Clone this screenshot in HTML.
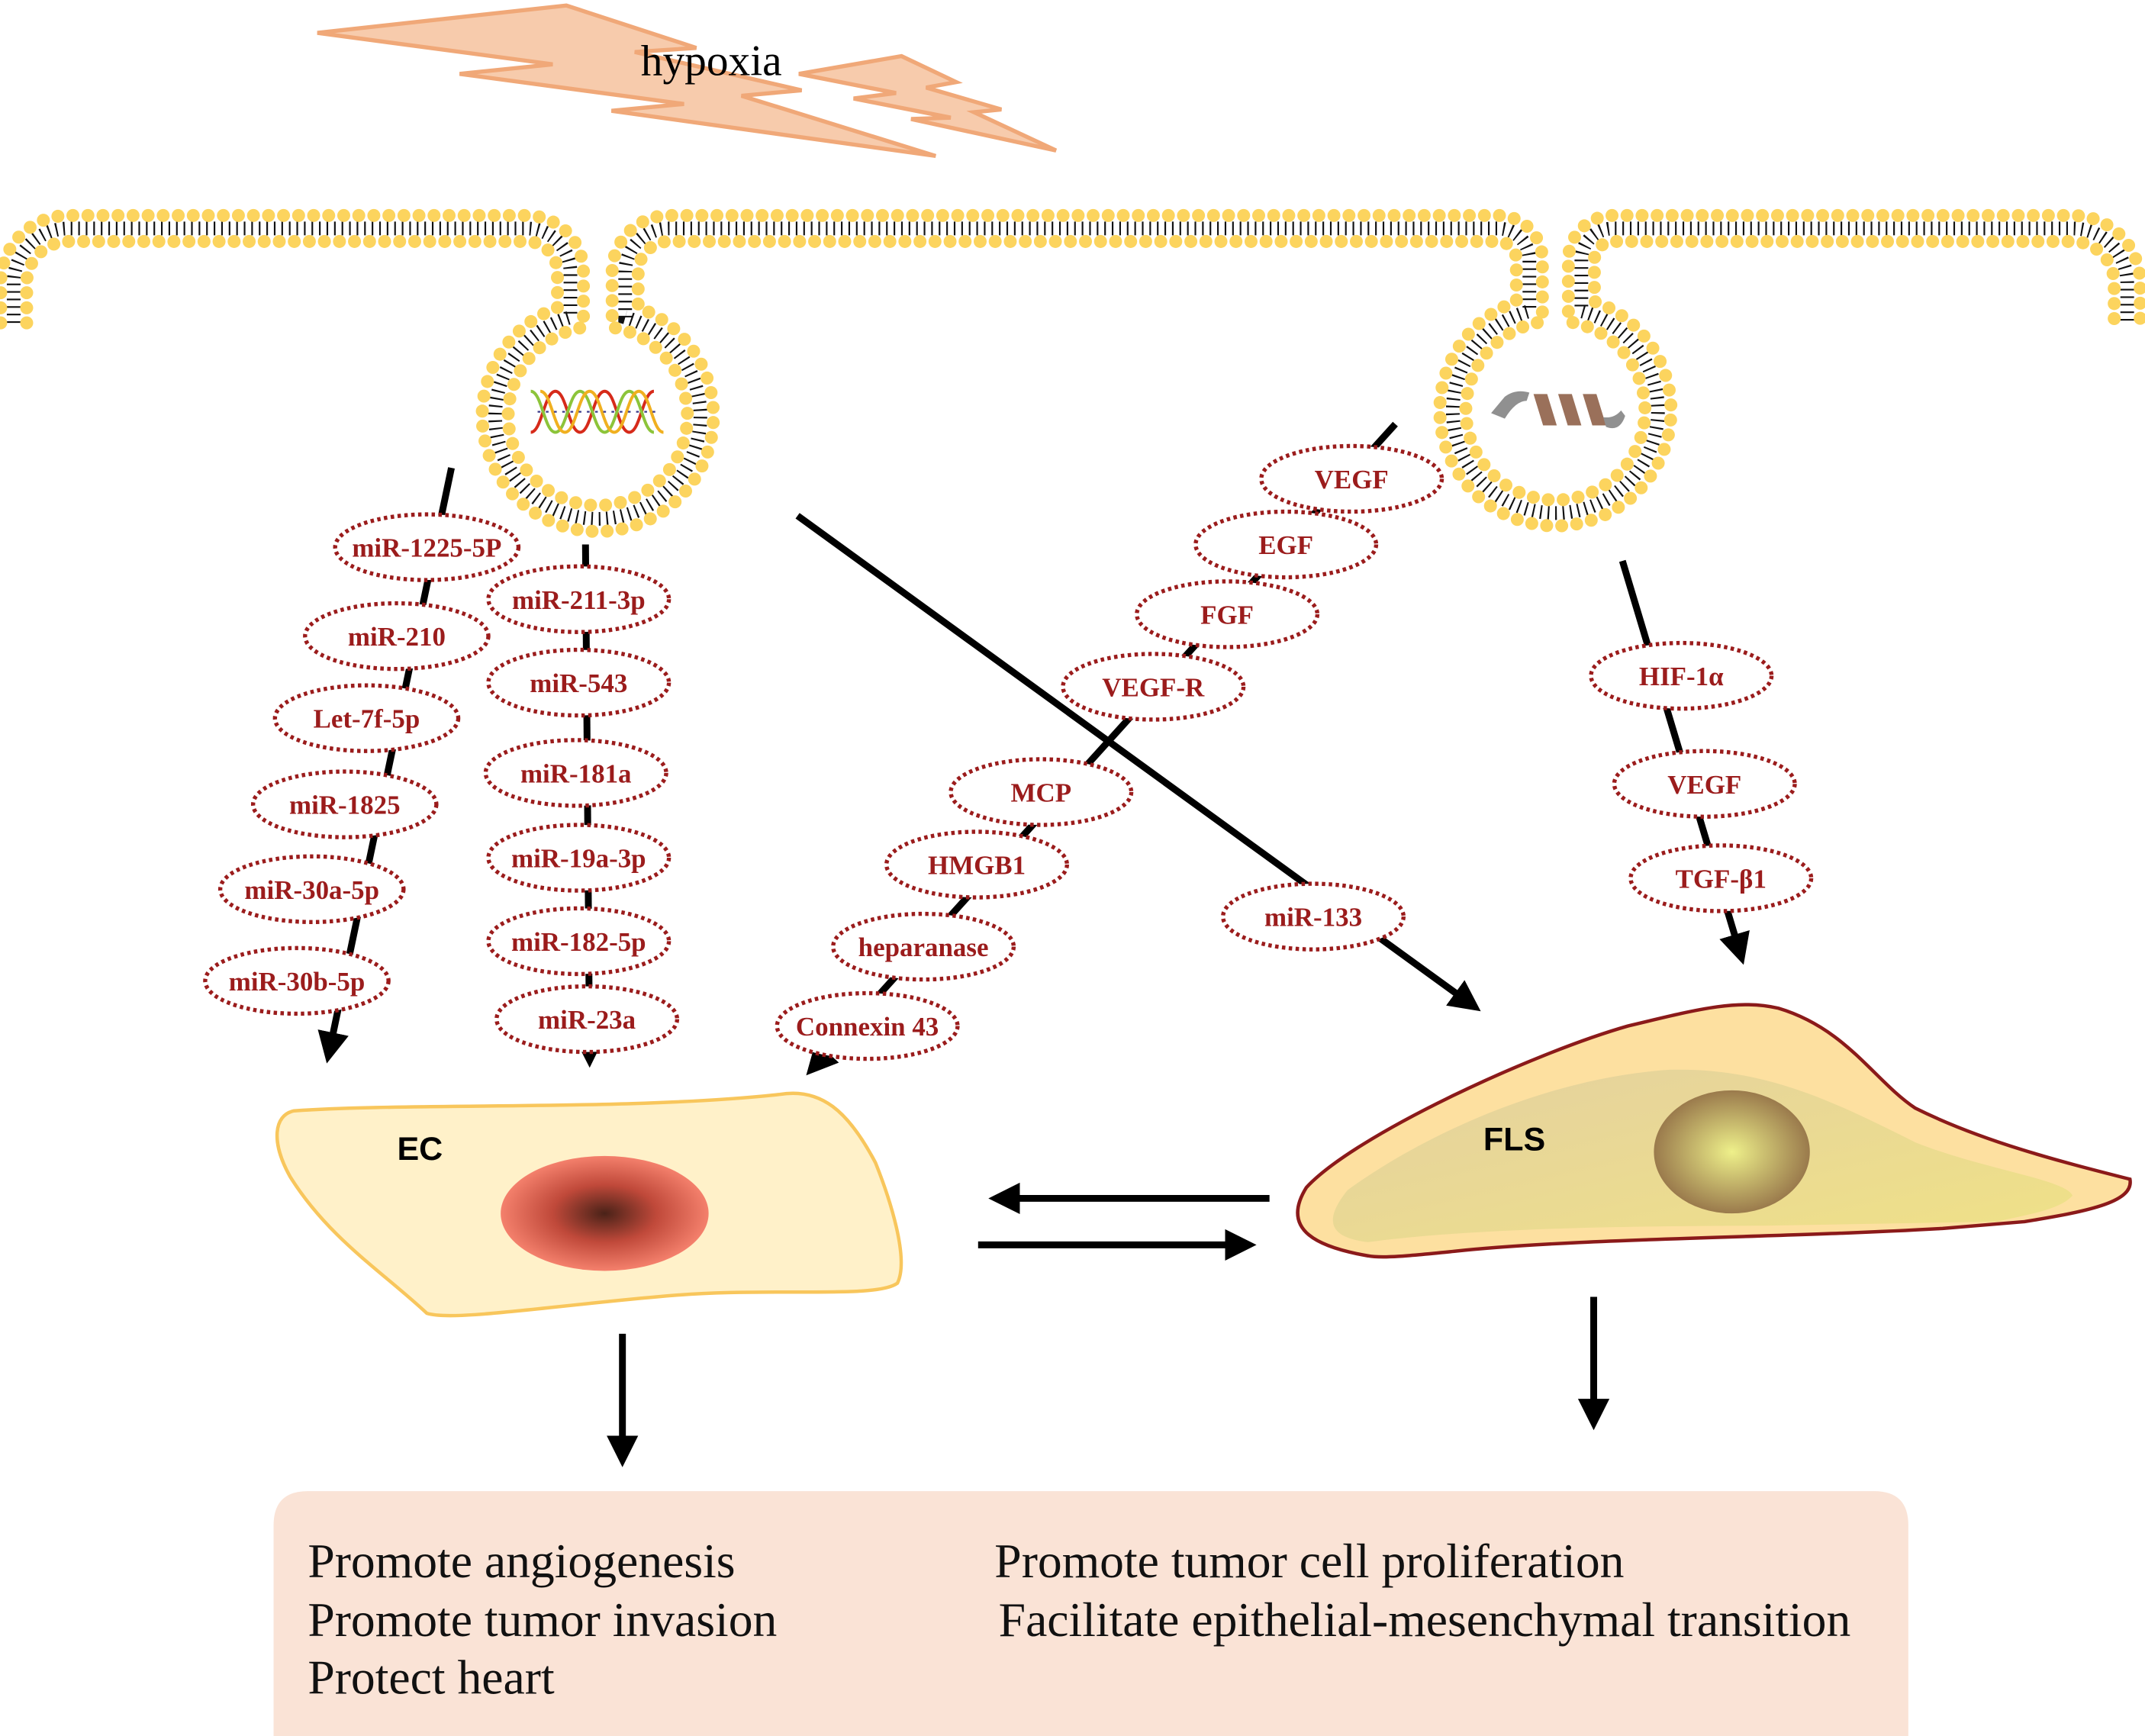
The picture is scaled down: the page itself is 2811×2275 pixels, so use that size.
<!DOCTYPE html>
<html><head><meta charset="utf-8"><style>
html,body{margin:0;padding:0;background:#fff;}
svg{display:block;}
.lbl{font-family:"Liberation Serif",serif;font-weight:bold;font-size:19.5px;fill:#9b1c1c;text-anchor:middle;}
.el{fill:#fff;stroke:#9b1c1c;stroke-width:3;stroke-dasharray:2.5 2.5;}
.bt{font-family:"Liberation Serif",serif;font-size:35.5px;fill:#111;}
</style></head><body>
<svg width="2811" height="2275" viewBox="0 0 1568 1269" xmlns="http://www.w3.org/2000/svg">
<defs>
<marker id="ah" markerWidth="8" markerHeight="8" refX="3.5" refY="4" orient="auto" markerUnits="strokeWidth">
<path d="M0,1.7 L4.6,4 L0,6.3 Z" fill="#000"/></marker>
<radialGradient id="ecn" cx="50%" cy="50%" r="50%"><stop offset="0" stop-color="#4a2218"/><stop offset="0.5" stop-color="#c0493a"/><stop offset="1" stop-color="#f4806c"/></radialGradient>
<radialGradient id="fln" cx="50%" cy="50%" r="50%"><stop offset="0" stop-color="#eef08a"/><stop offset="1" stop-color="#9a7a4c"/></radialGradient>
<linearGradient id="fli" x1="0" y1="0" x2="1" y2="1"><stop offset="0" stop-color="#dccca0"/><stop offset="1" stop-color="#ebe27e"/></linearGradient>
</defs>

<!-- hypoxia bolts -->
<polygon points="232,24 414,4 509,35 464,38 586,66 542,70 684,114 447,81 500,76 336,54 404,47" fill="#f7cbac" stroke="#f0a878" stroke-width="3"/>
<polygon points="584,54 659,41 699,60 677,64 732,80 712,82 772,110 666,87 695,86 624,72 655,68" fill="#f7cbac" stroke="#f0a878" stroke-width="3"/>
<text x="520" y="55" font-family="Liberation Serif,serif" font-size="32" text-anchor="middle" fill="#000">hypoxia</text>

<!-- membranes -->
<g fill="none">
<path d="M10,236 V207 A40 40 0 0 1 50,167 H385 A32 32 0 0 1 417,199 V232 A75 75 0 1 0 457,232 V199 A32 32 0 0 1 489,167 H1095 A23 23 0 0 1 1118,190 V227.5 A75 75 0 1 0 1156,227.5 V190 A23 23 0 0 1 1179,167 H1515 A40 40 0 0 1 1555,207 V236" stroke="#111" stroke-width="10" stroke-dasharray="1.2 4.3"/>
<path d="M0.5,236 V207 A49.5 49.5 0 0 1 50,157.5 H385 A41.5 41.5 0 0 1 426.5,199 V239.3 A65.5 65.5 0 1 0 447.5,239.3 V199 A41.5 41.5 0 0 1 489,157.5 H1095 A32.5 32.5 0 0 1 1127.5,190 V235.2 A65.5 65.5 0 1 0 1146.5,235.2 V190 A32.5 32.5 0 0 1 1179,157.5 H1515 A49.5 49.5 0 0 1 1564.5,207 V236" stroke="#fcd45e" stroke-width="9.5" stroke-linecap="round" stroke-dasharray="0 11"/>
<path d="M19.5,236 V207 A30.5 30.5 0 0 1 50,176.5 H385 A22.5 22.5 0 0 1 407.5,199 V224.8 A84.5 84.5 0 1 0 466.5,224.8 V199 A22.5 22.5 0 0 1 489,176.5 H1095 A13.5 13.5 0 0 1 1108.5,190 V220.4 A84.5 84.5 0 1 0 1165.5,220.4 V190 A13.5 13.5 0 0 1 1179,176.5 H1515 A30.5 30.5 0 0 1 1545.5,207 V236" stroke="#fcd45e" stroke-width="9.5" stroke-linecap="round" stroke-dasharray="0 11"/>
</g>

<!-- DNA -->
<g fill="none" stroke-width="2.2">
<path d="M388,316 C396,316 398,286 406,286 C414,286 416,316 424,316 C432,316 434,286 442,286 C450,286 452,316 460,316 C468,316 470,286 478,286" stroke="#d62a1a"/>
<path d="M388,286 C396,286 398,316 406,316 C414,316 416,286 424,286 C432,286 434,316 442,316 C450,316 452,286 460,286 C468,286 470,316 478,316" stroke="#8cc43a"/>
<path d="M395,286 C403,286 405,316 413,316 C421,316 423,286 431,286 C439,286 441,316 449,316 C457,316 459,286 467,286 C475,286 477,316 485,316" stroke="#f0b020"/>
<path d="M393,301 L483,301" stroke="#3a3a8a" stroke-width="1.2" stroke-dasharray="2 4"/>
</g>
<!-- protein -->
<g>
<path d="M1090,302 L1100,290 Q1108,284 1118,287 L1116,293 Q1108,293 1100,306 Z" fill="#909090"/>
<path d="M1121,288 L1131,288 L1138,311 L1128,311 Z M1139,288 L1149,288 L1156,311 L1146,311 Z M1157,288 L1167,288 L1174,311 L1164,311 Z" fill="#9a705a"/>
<path d="M1172,305 Q1180,306 1185,300 L1188,304 Q1184,316 1174,312 Z" fill="#909090"/>
</g>

<!-- connector lines -->
<g stroke="#000" stroke-width="5" fill="none">
<line x1="330" y1="342" x2="240" y2="772" marker-end="url(#ah)"/>
<line x1="428" y1="398" x2="431" y2="775" marker-end="url(#ah)"/>
<line x1="1020" y1="310" x2="593" y2="782" marker-end="url(#ah)"/>
<line x1="583" y1="377" x2="1078" y2="736" marker-end="url(#ah)"/>
<line x1="1186" y1="410" x2="1273" y2="700" marker-end="url(#ah)"/>
<line x1="928" y1="876" x2="728" y2="876" marker-end="url(#ah)"/>
<line x1="715" y1="910" x2="913" y2="910" marker-end="url(#ah)"/>
<line x1="455" y1="975" x2="455" y2="1067" marker-end="url(#ah)"/>
<line x1="1165" y1="948" x2="1165" y2="1040" marker-end="url(#ah)"/>
</g>

<!-- labels -->
<g>
<ellipse class="el" cx="312" cy="400" rx="67" ry="24"/><text class="lbl" x="312" y="407">miR-1225-5P</text>
<ellipse class="el" cx="290" cy="465" rx="67" ry="24"/><text class="lbl" x="290" y="472">miR-210</text>
<ellipse class="el" cx="268" cy="525" rx="67" ry="24"/><text class="lbl" x="268" y="532">Let-7f-5p</text>
<ellipse class="el" cx="252" cy="588" rx="67" ry="24"/><text class="lbl" x="252" y="595">miR-1825</text>
<ellipse class="el" cx="228" cy="650" rx="67" ry="24"/><text class="lbl" x="228" y="657">miR-30a-5p</text>
<ellipse class="el" cx="217" cy="717" rx="67" ry="24"/><text class="lbl" x="217" y="724">miR-30b-5p</text>

<ellipse class="el" cx="423" cy="438" rx="66" ry="24"/><text class="lbl" x="423" y="445">miR-211-3p</text>
<ellipse class="el" cx="423" cy="499" rx="66" ry="24"/><text class="lbl" x="423" y="506">miR-543</text>
<ellipse class="el" cx="421" cy="565" rx="66" ry="24"/><text class="lbl" x="421" y="572">miR-181a</text>
<ellipse class="el" cx="423" cy="627" rx="66" ry="24"/><text class="lbl" x="423" y="634">miR-19a-3p</text>
<ellipse class="el" cx="423" cy="688" rx="66" ry="24"/><text class="lbl" x="423" y="695">miR-182-5p</text>
<ellipse class="el" cx="429" cy="745" rx="66" ry="24"/><text class="lbl" x="429" y="752">miR-23a</text>

<ellipse class="el" cx="988" cy="350" rx="66" ry="24"/><text class="lbl" x="988" y="357">VEGF</text>
<ellipse class="el" cx="940" cy="398" rx="66" ry="24"/><text class="lbl" x="940" y="405">EGF</text>
<ellipse class="el" cx="897" cy="449" rx="66" ry="24"/><text class="lbl" x="897" y="456">FGF</text>
<ellipse class="el" cx="843" cy="502" rx="66" ry="24"/><text class="lbl" x="843" y="509">VEGF-R</text>
<ellipse class="el" cx="761" cy="579" rx="66" ry="24"/><text class="lbl" x="761" y="586">MCP</text>
<ellipse class="el" cx="714" cy="632" rx="66" ry="24"/><text class="lbl" x="714" y="639">HMGB1</text>
<ellipse class="el" cx="675" cy="692" rx="66" ry="24"/><text class="lbl" x="675" y="699">heparanase</text>
<ellipse class="el" cx="634" cy="750" rx="66" ry="24"/><text class="lbl" x="634" y="757">Connexin 43</text>

<ellipse class="el" cx="960" cy="670" rx="66" ry="24"/><text class="lbl" x="960" y="677">miR-133</text>

<ellipse class="el" cx="1229" cy="494" rx="66" ry="24"/><text class="lbl" x="1229" y="501">HIF-1α</text>
<ellipse class="el" cx="1246" cy="573" rx="66" ry="24"/><text class="lbl" x="1246" y="580">VEGF</text>
<ellipse class="el" cx="1258" cy="642" rx="66" ry="24"/><text class="lbl" x="1258" y="649">TGF-β1</text>
</g>

<!-- EC cell -->
<path d="M215,812 C300,806 460,812 570,800 C600,795 620,812 640,850 C650,875 665,920 656,938 C640,950 560,940 480,948 C400,955 330,966 312,960 C280,930 240,905 212,860 C198,835 200,815 215,812 Z" fill="#fff1c9" stroke="#f8c65c" stroke-width="2.5"/>
<ellipse cx="442" cy="887" rx="76" ry="42" fill="url(#ecn)"/>
<text x="307" y="848" font-family="Liberation Sans,sans-serif" font-weight="bold" font-size="24" text-anchor="middle">EC</text>

<!-- FLS cell -->
<path d="M1000,918 C965,912 935,900 955,868 C990,830 1120,770 1190,750 C1240,738 1270,730 1300,737 C1350,752 1370,790 1400,810 C1450,835 1510,850 1557,862 C1560,878 1530,885 1480,893 L1420,898 C1300,905 1150,905 1060,915 C1030,918 1010,920 1000,918 Z" fill="#fde0a0" stroke="#8b1a1a" stroke-width="2.5"/>
<path d="M1000,908 C975,905 965,895 985,870 C1040,830 1130,788 1220,782 C1290,780 1340,805 1400,835 C1450,855 1510,862 1515,874 C1505,885 1480,888 1460,893 L1290,896 C1150,896 1060,900 1000,908 Z" fill="url(#fli)" opacity="0.75"/>
<ellipse cx="1266" cy="842" rx="57" ry="45" fill="url(#fln)"/>
<text x="1107" y="841" font-family="Liberation Sans,sans-serif" font-weight="bold" font-size="24" text-anchor="middle">FLS</text>

<!-- bottom box -->
<path d="M225,1090 L1370,1090 Q1395,1090 1395,1115 L1395,1269 L200,1269 L200,1115 Q200,1090 225,1090 Z" fill="#fae3d6"/>
<text class="bt" x="225" y="1153">Promote angiogenesis</text>
<text class="bt" x="225" y="1196">Promote tumor invasion</text>
<text class="bt" x="225" y="1238">Protect heart</text>
<text class="bt" x="727" y="1153">Promote tumor cell proliferation</text>
<text class="bt" x="730" y="1196">Facilitate epithelial-mesenchymal transition</text>
</svg>
</body></html>
